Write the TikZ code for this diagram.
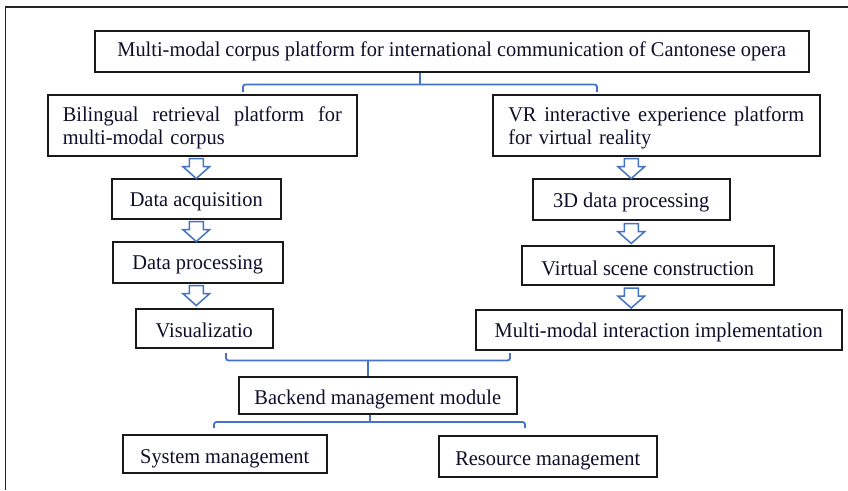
\documentclass[tikz,border=0pt]{standalone}
\usepackage{fontspec}
\setmainfont{Liberation Serif}[FakeStretch=0.97]
\usetikzlibrary{calc}
\definecolor{navy}{RGB}{14,14,42}
\definecolor{conn}{RGB}{68,114,196}
\newcommand\lowtxt[2]{\raisebox{-#1}[\height][\depth]{#2}}
\tikzset{
  box/.style={draw=black!90, line width=1.5pt, inner sep=0pt, anchor=north west,
    text=navy, font=\fontsize{21}{23}\selectfont},
  connline/.style={draw=conn, line width=1.8pt, rounded corners=2.5pt},
  pics/harrow/.style={code={
    \draw[draw=conn, line width=1.5pt, fill=white, line join=miter]
      (-7,0) -- (-7,8) -- (-13.5,8) -- (0,20) -- (13.5,8) -- (7,8) -- (7,0) -- cycle;}}
}
\begin{document}
\begin{tikzpicture}[x=1pt,y=-1pt]
\useasboundingbox (0,0) rectangle (848,490);
\draw[line width=1.8pt, black!85] (848,7) -- (5.5,7) -- (5.5,490);

\node[box, minimum width=714pt, minimum height=41pt] (top) at (94,30)
  {Multi-modal corpus platform for international communication of Cantonese opera};
\node[box, minimum width=309pt, minimum height=61pt, text width=279pt, align=left] (bil) at (47,94)
  {\lowtxt{3pt}{\parbox{279pt}{Bilingual\hfill retrieval\hfill platform\hfill for\\multi-modal corpus}}};
\node[box, minimum width=327pt, minimum height=61pt, text width=296pt, align=left] (vr) at (492,94)
  {\lowtxt{3pt}{\parbox{296pt}{VR\hfill interactive\hfill experience\hfill platform\\for virtual reality}}};

\node[box, minimum width=169pt, minimum height=40pt] (acq) at (111,178) {\lowtxt{3pt}{Data acquisition}};
\node[box, minimum width=170pt, minimum height=41pt] (proc) at (112,241) {\lowtxt{3pt}{Data processing}};
\node[box, minimum width=137pt, minimum height=39pt] (vis) at (135,308) {\lowtxt{2pt}{Visualizatio}\hspace{10pt}};

\node[box, minimum width=197pt, minimum height=41pt] (d3) at (532,178) {\lowtxt{3pt}{3D data processing}\hspace{9pt}};
\node[box, minimum width=252pt, minimum height=39pt] (vsc) at (521,245) {\lowtxt{3pt}{Virtual scene construction}};
\node[box, minimum width=366pt, minimum height=40pt] (mmi) at (475,309) {\lowtxt{3pt}{Multi-modal interaction implementation}};

\node[box, minimum width=278pt, minimum height=37pt] (back) at (238,376) {\lowtxt{4pt}{Backend management module}};
\node[box, minimum width=204pt, minimum height=38pt] (sys) at (122,434) {\lowtxt{5pt}{System management}};
\node[box, minimum width=218pt, minimum height=41pt] (res) at (438,435) {\lowtxt{5pt}{Resource management}};

% hollow arrows
\pic at ($(acq.north|-bil.south)+(0,2)$) {harrow};
\pic at ($(acq.south)+(0,2)$) {harrow};
\pic at ($(acq.south|-proc.south)+(0,2)$) {harrow};
\pic at ($(d3.north|-vr.south)+(0,2)$) {harrow};
\pic at ($(d3.south)+(0,3)$) {harrow};
\pic at ($(d3.south|-vsc.south)+(0,2.5)$) {harrow};

% bracket 1
\coordinate (b1m) at (420,84.5);
\coordinate (b1l) at (243,92);
\coordinate (b1r) at (597,92);
\draw[connline] (b1m |- top.south) -- (b1m);
\draw[connline] (b1l) |- (b1m) -| (b1r);

% bracket 2
\coordinate (b2m) at (368,360.5);
\coordinate (b2l) at (226,353);
\coordinate (b2r) at (510,353);
\draw[connline] (b2l) |- (b2m) -| (b2r);
\draw[connline] (b2m) -- (b2m |- back.north);

% bracket 3
\coordinate (b3m) at (370,422);
\coordinate (b3l) at (214,428);
\coordinate (b3r) at (525,428);
\draw[connline] (b3m |- back.south) -- (b3m);
\draw[connline] (b3l) |- (b3m) -| (b3r);
\end{tikzpicture}
\end{document}
